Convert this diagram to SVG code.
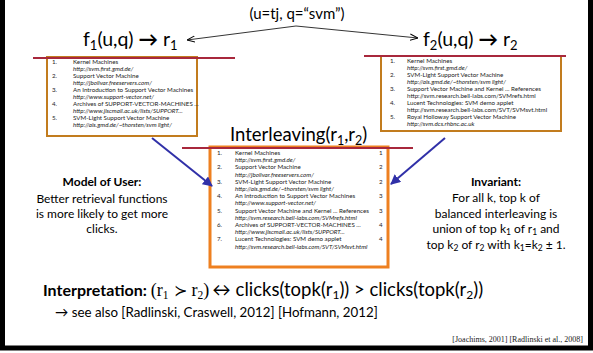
<svg xmlns="http://www.w3.org/2000/svg" width="593" height="353" viewBox="0 0 593 353">
  <style>
    .sans { font-family: Lato, "Liberation Sans", sans-serif; fill: #000; }
    .lbl { font-size: 19.5px; }
    .item { font-family: Lato, "Liberation Sans", sans-serif; font-size: 6.2px; fill: #222; }
    .url { font-style: italic; }
    .listbox { fill: #fff; stroke: #C27C1E; stroke-width: 2; }
    .mixbox { fill: #fff; stroke: #EE8020; stroke-width: 3; }
    .rule { stroke: #A8283C; stroke-width: 2.2; }
    .thin { stroke: #000; stroke-width: 0.8; fill: none; }
    .blue { stroke: #3030A8; stroke-width: 2; fill: none; }
    .note { font-family: Lato, "Liberation Sans", sans-serif; font-size: 12px; text-anchor: middle; fill: #000; }
    .serif { font-family: "Liberation Serif", "DejaVu Serif", serif; }
  </style>
  <defs>
    <marker id="open" viewBox="0 0 10 10" refX="10" refY="5" markerWidth="8" markerHeight="8" markerUnits="userSpaceOnUse" orient="auto">
      <path d="M0,1 L10,5 L0,9" fill="none" stroke="#000" stroke-width="1.2"/>
    </marker>
    <marker id="tri" viewBox="0 0 10 10" refX="9" refY="5" markerWidth="5" markerHeight="5" orient="auto">
      <path d="M0,0 L10,5 L0,10 z" fill="#3030A8"/>
    </marker>
  </defs>

  <rect width="593" height="353" fill="#fff"/>
  <!-- slide frame -->
  <path d="M2.5,-5 V348 H590.5 V-5" fill="none" stroke="#000" stroke-width="5"/>

  <!-- query label -->
  <g id="query">
    <text class="sans" x="297" y="19" font-size="15" text-anchor="middle">(u=tj, q=“svm”)</text>
  </g>

  <!-- ranking function 1 -->
  <g id="ranker1">
    <text class="sans lbl" x="83" y="46">f<tspan font-size="13" dy="4">1</tspan><tspan dy="-4">(u,q) </tspan><tspan font-weight="bold">→</tspan> r<tspan font-size="13" dy="4">1</tspan></text>
    <rect class="listbox" x="47" y="57" width="150" height="79"/>
    <line class="rule" x1="33" y1="58" x2="235" y2="58"/>
    <g class="item">
      <text x="52" y="64">1.</text><text x="73" y="64">Kernel Machines</text>
      <text class="url" x="73" y="71">http://svm.first.gmd.de/</text>
      <text x="52" y="78">2.</text><text x="73" y="78">Support Vector Machine</text>
      <text class="url" x="73" y="85">http://jbolivar.freeservers.com/</text>
      <text x="52" y="92">3.</text><text x="73" y="92">An Introduction to Support Vector Machines</text>
      <text class="url" x="73" y="99">http://www.support-vector.net/</text>
      <text x="52" y="106">4.</text><text x="73" y="106">Archives of SUPPORT-VECTOR-MACHINES ...</text>
      <text class="url" x="73" y="113">http://www.jiscmail.ac.uk/lists/SUPPORT...</text>
      <text x="52" y="120">5.</text><text x="73" y="120">SVM-Light Support Vector Machine</text>
      <text class="url" x="73" y="127">http://ais.gmd.de/~thorsten/svm light/</text>
    </g>
  </g>

  <!-- ranking function 2 -->
  <g id="ranker2">
    <text class="sans lbl" x="423" y="46">f<tspan font-size="13" dy="4">2</tspan><tspan dy="-4">(u,q) </tspan><tspan font-weight="bold">→</tspan> r<tspan font-size="13" dy="4">2</tspan></text>
    <rect class="listbox" x="381" y="56" width="180" height="75"/>
    <line class="rule" x1="364" y1="56" x2="566" y2="56"/>
    <g class="item">
      <text x="390" y="63">1.</text><text x="407" y="63">Kernel Machines</text>
      <text class="url" x="407" y="70">http://svm.first.gmd.de/</text>
      <text x="390" y="77">2.</text><text x="407" y="77">SVM-Light Support Vector Machine</text>
      <text class="url" x="407" y="84">http://ais.gmd.de/~thorsten/svm light/</text>
      <text x="390" y="91">3.</text><text x="407" y="91">Support Vector Machine and Kernel ... References</text>
      <text x="407" y="98">http://svm.research.bell-labs.com/SVMrefs.html</text>
      <text x="390" y="105">4.</text><text x="407" y="105">Lucent Technologies: SVM demo applet</text>
      <text x="407" y="112">http://svm.research.bell-labs.com/SVT/SVMsvt.html</text>
      <text x="390" y="119">5.</text><text x="407" y="119">Royal Holloway Support Vector Machine</text>
      <text class="url" x="407" y="126">http://svm.dcs.rhbnc.ac.uk</text>
    </g>
  </g>

  <!-- interleaved ranking -->
  <g id="interleaved">
    <text class="sans" x="230" y="141" font-size="18.5">Interleaving(r<tspan font-size="12.5" dy="4">1</tspan><tspan dy="-4">,r</tspan><tspan font-size="12.5" dy="4">2</tspan><tspan dy="-4">)</tspan></text>
    <rect class="mixbox" x="210" y="147" width="178" height="120"/>
    <line class="rule" x1="182" y1="148" x2="413" y2="148"/>
    <g class="item">
      <text x="217" y="155">1.</text><text x="235" y="155">Kernel Machines</text><text x="379" y="155">1</text>
      <text class="url" x="235" y="162.2">http://svm.first.gmd.de/</text>
      <text x="217" y="169.4">2.</text><text x="235" y="169.4">Support Vector Machine</text><text x="379" y="169.4">2</text>
      <text class="url" x="235" y="176.6">http://jbolivar.freeservers.com/</text>
      <text x="217" y="183.8">3.</text><text x="235" y="183.8">SVM-Light Support Vector Machine</text><text x="379" y="183.8">2</text>
      <text class="url" x="235" y="191">http://ais.gmd.de/~thorsten/svm light/</text>
      <text x="217" y="198.2">4.</text><text x="235" y="198.2">An Introduction to Support Vector Machines</text><text x="379" y="198.2">3</text>
      <text class="url" x="235" y="205.4">http://www.support-vector.net/</text>
      <text x="217" y="212.6">5.</text><text x="235" y="212.6">Support Vector Machine and Kernel ... References</text><text x="379" y="212.6">3</text>
      <text class="url" x="235" y="219.8">http://svm.research.bell-labs.com/SVMrefs.html</text>
      <text x="217" y="227">6.</text><text x="235" y="227">Archives of SUPPORT-VECTOR-MACHINES ...</text><text x="379" y="227">4</text>
      <text class="url" x="235" y="234.2">http://www.jiscmail.ac.uk/lists/SUPPORT...</text>
      <text x="217" y="241.4">7.</text><text x="235" y="241.4">Lucent Technologies: SVM demo applet</text><text x="379" y="241.4">4</text>
      <text class="url" x="235" y="248.6">http://svm.research.bell-labs.com/SVT/SVMsvt.html</text>
    </g>
  </g>

  <!-- connectors -->
  <g id="connectors">
    <path class="thin" d="M296,26 L187,40" marker-end="url(#open)"/>
    <path class="thin" d="M296,26 L418,38" marker-end="url(#open)"/>
    <path class="blue" d="M152,138 L212,186" marker-end="url(#tri)"/>
    <path class="blue" d="M445,138 L391,184" marker-end="url(#tri)"/>
  </g>

  <!-- side notes -->
  <g id="model-of-user">
    <text class="note" x="102" y="186" font-weight="bold">Model of User:</text>
    <text class="note" x="102" y="203">Better retrieval functions</text>
    <text class="note" x="102" y="218">is more likely to get more</text>
    <text class="note" x="102" y="233">clicks.</text>
  </g>
  <g id="invariant">
    <text class="note" x="496" y="186" font-weight="bold">Invariant:</text>
    <text class="note" x="496" y="202">For all k, top k of</text>
    <text class="note" x="496" y="218">balanced interleaving is</text>
    <text class="note" x="496" y="233">union of top k<tspan font-size="8.5" dy="2">1</tspan><tspan dy="-2"> of r</tspan><tspan font-size="8.5" dy="2">1</tspan><tspan dy="-2"> and</tspan></text>
    <text class="note" x="496" y="249">top k<tspan font-size="8.5" dy="2">2</tspan><tspan dy="-2"> of r</tspan><tspan font-size="8.5" dy="2">2</tspan><tspan dy="-2"> with k</tspan><tspan font-size="8.5" dy="2">1</tspan><tspan dy="-2">=k</tspan><tspan font-size="8.5" dy="2">2</tspan><tspan dy="-2"> ± 1.</tspan></text>
  </g>

  <!-- interpretation -->
  <g id="interpretation">
    <text class="sans" x="43" y="296" font-size="18.5"><tspan font-weight="bold" font-size="16">Interpretation:</tspan><tspan class="serif" dx="4" font-size="18">(r</tspan><tspan class="serif" font-size="11.5" dy="3">1</tspan><tspan dy="-3" dx="5" font-family="'DejaVu Serif', serif" font-size="16">≻</tspan><tspan class="serif" dx="5" font-size="18">r</tspan><tspan class="serif" font-size="11.5" dy="3">2</tspan><tspan class="serif" dy="-3" font-size="18">)</tspan><tspan dx="3">↔ clicks(topk(r</tspan><tspan font-size="12" dy="3">1</tspan><tspan dy="-3">)) &gt; clicks(topk(r</tspan><tspan font-size="12" dy="3">2</tspan><tspan dy="-3">))</tspan></text>
    <text class="sans" x="55" y="317" font-size="13.3">→ see also [Radlinski, Craswell, 2012] [Hofmann, 2012]</text>
  </g>

  <text x="583" y="342" font-family="'Liberation Serif', serif" font-size="8" text-anchor="end" fill="#222">[Joachims, 2001] [Radlinski et al., 2008]</text>
</svg>
